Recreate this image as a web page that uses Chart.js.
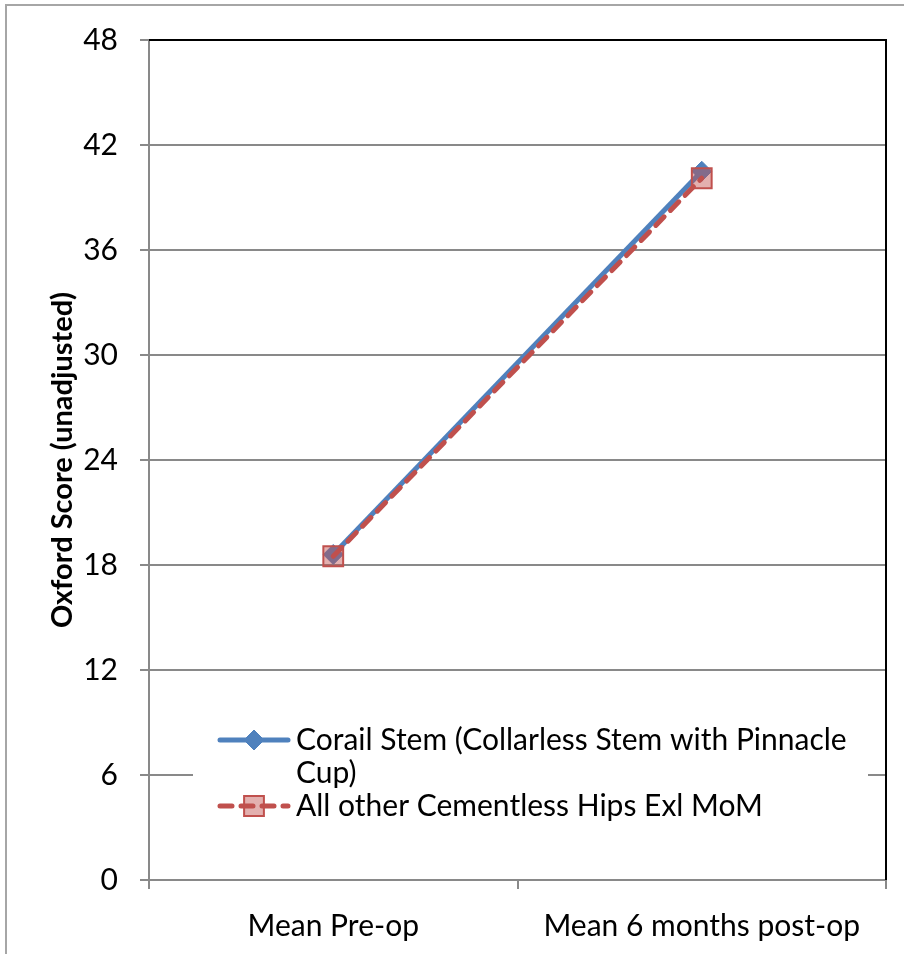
<!DOCTYPE html>
<html>
<head>
<meta charset="utf-8">
<title>Oxford Score</title>
<script src="https://cdn.jsdelivr.net/npm/chart.js@4.4.1/dist/chart.umd.min.js"></script>
<style>
  html, body { margin: 0; padding: 0; background: #fff; overflow: hidden; }
  #wrap { position: relative; width: 904px; height: 954px; }
</style>
</head>
<body>
<div id="wrap"><canvas id="oxfordChart" width="904" height="954"></canvas></div>
<script>
const categories = ['Mean Pre-op', 'Mean 6 months post-op'];
const corailScores = [18.6, 40.5];
const otherScores = [18.5, 40.1];
const seriesNames = ['Corail Stem (Collarless Stem with Pinnacle Cup)', 'All other Cementless Hips Exl MoM'];
const yTicks = [0, 6, 12, 18, 24, 30, 36, 42, 48];
const yTitle = 'Oxford Score (unadjusted)';

const FONT = 'Lato';
const BLUE = '#4F81BD';
const RED = '#C0504D';
const GRID = '#898989';

function wrapText(ctx, text, maxWidth) {
  const words = text.split(' ');
  const lines = [];
  let line = '';
  words.forEach(function(w) {
    const test = line ? line + ' ' + w : w;
    if (ctx.measureText(test).width > maxWidth && line) {
      lines.push(line);
      line = w;
    } else {
      line = test;
    }
  });
  if (line) lines.push(line);
  return lines;
}

function drawMarker(ctx, ds, x, y) {
  const r = ds.pointRadius;
  ctx.save();
  ctx.setLineDash([]);
  ctx.fillStyle = ds.pointBackgroundColor;
  ctx.strokeStyle = ds.pointBorderColor;
  ctx.lineWidth = ds.pointBorderWidth;
  ctx.beginPath();
  if (ds.pointStyle === 'rectRot') {
    ctx.moveTo(x - r, y);
    ctx.lineTo(x, y - r);
    ctx.lineTo(x + r, y);
    ctx.lineTo(x, y + r);
    ctx.closePath();
  } else {
    const s = r * Math.SQRT1_2;
    ctx.rect(x - s, y - s, 2 * s, 2 * s);
  }
  ctx.fill();
  ctx.stroke();
  ctx.restore();
}

// frame, black top/right plot border, and the boxed legend inside the plot
const chartDecor = {
  id: 'chartDecor',
  beforeDraw(chart) {
    const ctx = chart.ctx;
    ctx.save();
    ctx.fillStyle = '#fff';
    ctx.fillRect(0, 0, chart.width, chart.height);
    ctx.strokeStyle = '#a6a6a6';
    ctx.lineWidth = 2;
    ctx.beginPath();
    ctx.moveTo(6, chart.height);
    ctx.lineTo(6, 5);
    ctx.lineTo(chart.width, 5);
    ctx.stroke();
    ctx.restore();
  },
  afterDraw(chart) {
    const ctx = chart.ctx;
    const a = chart.chartArea;
    ctx.save();
    ctx.strokeStyle = '#000';
    ctx.lineWidth = 2;
    ctx.beginPath();
    ctx.moveTo(a.left, a.top);
    ctx.lineTo(a.right, a.top);
    ctx.lineTo(a.right, a.bottom);
    ctx.stroke();

    // legend
    const boxLeft = a.left + 44;
    const boxRight = a.right - 18;
    ctx.fillStyle = '#fff';
    ctx.fillRect(boxLeft, 700, boxRight - boxLeft, 150);
    ctx.font = '30px ' + FONT;
    ctx.textBaseline = 'middle';
    ctx.textAlign = 'left';
    const textX = 296;
    const lineH = 33;
    let y = 740;
    chart.data.datasets.forEach(function(ds) {
      ctx.save();
      ctx.strokeStyle = ds.borderColor;
      ctx.lineWidth = ds.borderWidth;
      ctx.lineCap = 'round';
      ctx.setLineDash(ds.borderDash || []);
      ctx.beginPath();
      ctx.moveTo(220, y);
      ctx.lineTo(288, y);
      ctx.stroke();
      ctx.restore();
      drawMarker(ctx, ds, 254, y);
      ctx.fillStyle = '#000';
      const lines = wrapText(ctx, ds.label, boxRight - textX - 2);
      lines.forEach(function(l, i) {
        ctx.fillText(l, textX, y + i * lineH);
      });
      y += lines.length * lineH;
    });
    ctx.restore();
  }
};

const ctx = document.getElementById('oxfordChart').getContext('2d');

new Chart(ctx, {
  type: 'line',
  data: {
    labels: categories,
    datasets: [{
      label: seriesNames[0],
      data: corailScores,
      order: 2,
      borderColor: BLUE,
      borderWidth: 5,
      tension: 0,
      pointStyle: 'rectRot',
      pointRadius: 10,
      pointBackgroundColor: BLUE,
      pointBorderColor: BLUE,
      pointBorderWidth: 1
    }, {
      label: seriesNames[1],
      data: otherScores,
      order: 1,
      borderColor: RED,
      borderWidth: 5,
      borderDash: [12, 9],
      borderCapStyle: 'round',
      tension: 0,
      pointStyle: 'rect',
      pointRadius: 14,
      pointBackgroundColor: 'rgba(192, 80, 77, 0.45)',
      pointBorderColor: RED,
      pointBorderWidth: 2
    }]
  },
  options: {
    responsive: false,
    animation: false,
    devicePixelRatio: 1,
    layout: { padding: { left: 0, top: 38, right: 18, bottom: 0 } },
    plugins: {
      legend: { display: false },
      tooltip: { enabled: false }
    },
    scales: {
      x: {
        offset: true,
        afterFit: function(scale) { scale.height = 74; },
        grid: {
          offset: true,
          drawOnChartArea: false,
          tickLength: 9,
          color: GRID,
          lineWidth: 2
        },
        border: { color: GRID, width: 2 },
        ticks: {
          padding: 19,
          color: '#000',
          font: { family: FONT, size: 30 }
        }
      },
      y: {
        min: 0,
        max: 48,
        afterFit: function(scale) { scale.width = 149; },
        afterBuildTicks: function(scale) {
          scale.ticks = yTicks.map(function(v) { return { value: v }; });
        },
        grid: {
          tickLength: 9,
          color: GRID,
          lineWidth: 2
        },
        border: { color: GRID, width: 2 },
        ticks: {
          padding: 22,
          color: '#000',
          font: { family: FONT, size: 30 }
        },
        title: {
          display: true,
          text: yTitle,
          color: '#000',
          padding: { top: 45, bottom: 0 },
          font: { family: FONT, size: 29, weight: 'bold' }
        }
      }
    }
  },
  plugins: [chartDecor]
});
</script>
</body>
</html>
